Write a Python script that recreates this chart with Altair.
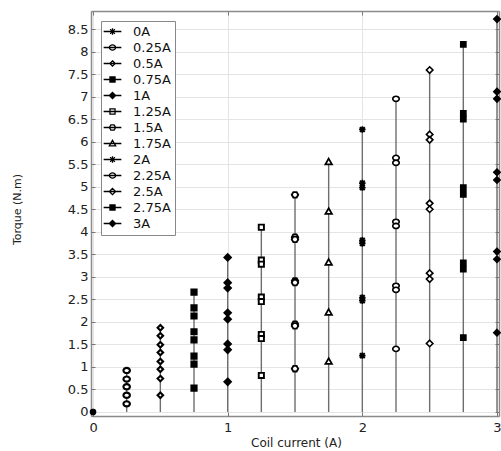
import altair as alt
import pandas as pd

# ---------------- data ----------------
series = ["0A", "0.25A", "0.5A", "0.75A", "1A", "1.25A", "1.5A",
          "1.75A", "2A", "2.25A", "2.5A", "2.75A", "3A"]
currents = [0, 0.25, 0.5, 0.75, 1, 1.25, 1.5, 1.75, 2, 2.25, 2.5, 2.75, 3]

t_0A = [0.0]
t_025A = [0.92, 0.73, 0.56, 0.37, 0.18]
t_05A = [1.87, 1.69, 1.49, 1.32, 1.12, 0.95, 0.74, 0.37]
t_075A = [2.66, 2.31, 2.13, 1.78, 1.60, 1.24, 1.06, 0.53]
t_1A = [3.43, 2.87, 2.75, 2.20, 2.06, 1.51, 1.38, 0.67]
t_125A = [4.10, 3.37, 3.28, 2.55, 2.45, 1.72, 1.63, 0.81]
t_15A = [4.82, 3.88, 3.83, 2.91, 2.87, 1.95, 1.91, 0.96]
t_175A = [5.55, 4.45, 3.32, 2.21, 1.12]
t_2A = [6.27, 5.08, 4.98, 3.81, 3.74, 2.54, 2.47, 1.25]
t_225A = [6.95, 5.64, 5.53, 4.22, 4.13, 2.80, 2.71, 1.40]
t_25A = [7.59, 6.16, 6.04, 4.63, 4.50, 3.08, 2.95, 1.52]
t_275A = [8.16, 6.63, 6.50, 4.98, 4.83, 3.31, 3.17, 1.65]
t_3A = [8.72, 7.11, 6.95, 5.32, 5.15, 3.56, 3.39, 1.76]

torques = [t_0A, t_025A, t_05A, t_075A, t_1A, t_125A, t_15A,
           t_175A, t_2A, t_225A, t_25A, t_275A, t_3A]

x_ticks = [0, 1, 2, 3]
y_ticks = [0, 0.5, 1, 1.5, 2, 2.5, 3, 3.5, 4, 4.5, 5, 5.5, 6, 6.5, 7, 7.5, 8, 8.5]

# ---------------- styles ----------------
AST = "M-1,0H1M0,-1V1M-0.75,-0.75L0.75,0.75M-0.75,0.75L0.75,-0.75"
CIRC = "M-1,0A1,0.8 0 1,0 1,0A1,0.8 0 1,0 -1,0Z"
SDIA = "M0,-0.85L0.85,0L0,0.85L-0.85,0Z"
SQR = "M-0.8,-0.8H0.8V0.8H-0.8Z"
DIA = "M0,-1L1,0L0,1L-1,0Z"
HEX = "M-1,0L-0.5,-0.85H0.5L1,0L0.5,0.85H-0.5Z"
TRI = "M0,-1L1,0.75H-1Z"

markers = [AST, CIRC, SDIA, SQR, DIA, SQR, HEX, TRI, AST, CIRC, DIA, SQR, DIA]
fills = ["black", "white", "white", "black", "black", "white", "white",
         "white", "black", "white", "white", "black", "black"]
widths = [2.2, 1.5, 1.5, 1.5, 1.5, 1.5, 1.6, 1.6, 2.2, 1.5, 1.5, 1.5, 1.5]
strokes = ["black"] * len(series)
legend_markers = ["M-2.8,0H2.8" + m for m in markers]

rows = []
for s, c, vals in zip(series, currents, torques):
    for v in vals:
        rows.append({"series": s, "current": c, "torque": v})
df = pd.DataFrame(rows)

stems = pd.DataFrame({"current": currents,
                      "top": [max(v) for v in torques],
                      "base": [0.0] * len(currents)})
stems = stems[stems["top"] > 0]

W, H = 408, 405
FONT = "DejaVu Sans"
X = alt.Scale(domain=[-0.015, 3.015], nice=False, zero=False)
Y = alt.Scale(domain=[-0.09, 8.9], nice=False, zero=False)

GRID = "#e4e4e4"
DOM = "#8a8a8a"
TICK = "#777777"

main_x = alt.Axis(values=x_ticks, grid=True, gridColor=GRID, ticks=False,
                  domainColor=DOM, domainWidth=1.5, format="~g",
                  labelFont=FONT, labelFontSize=13, labelColor="#222",
                  labelPadding=5, title="Coil current (A)", titleFont=FONT,
                  titleFontSize=12, titleFontWeight="normal", titleColor="#222",
                  titleX=W / 2 + 1, titleY=26, titleBaseline="middle",
                  titleAlign="center")
main_y = alt.Axis(values=y_ticks, grid=True, gridColor=GRID, ticks=False,
                  domainColor=DOM, domainWidth=1.5, format="~g",
                  labelFont=FONT, labelFontSize=13, labelColor="#222",
                  labelPadding=3, title="Torque (N.m)", titleFont=FONT,
                  titleFontSize=11, titleFontWeight="normal", titleColor="#222",
                  titleX=-74, titleY=198, titleBaseline="middle",
                  titleAlign="center", titleAngle=270)

in_bottom = alt.Axis(orient="top", offset=-H, values=x_ticks, labels=False,
                     title=None, grid=False, domain=False, tickSize=4,
                     tickColor=TICK)
in_left = alt.Axis(orient="right", offset=-W, values=y_ticks, labels=False,
                   title=None, grid=False, domain=False, tickSize=4,
                   tickColor=TICK)
top_frame = alt.Axis(orient="bottom", offset=-H, values=x_ticks, labels=False,
                     title=None, grid=False, domain=True, domainColor=DOM,
                     domainWidth=1.5, tickSize=4, tickColor=TICK)
right_frame = alt.Axis(orient="left", offset=-W, values=y_ticks, labels=False,
                       title=None, grid=False, domain=True, domainColor=DOM,
                       domainWidth=1.5, tickSize=4, tickColor=TICK)

stem_layer = alt.Chart(stems).mark_rule(color="#6e6e6e", strokeWidth=1.4).encode(
    x=alt.X("current:Q", scale=X, axis=main_x),
    y=alt.Y("base:Q", scale=Y, axis=main_y),
    y2="top:Q",
)

pt_layer = alt.Chart(df).mark_point(stroke="black", opacity=1, size=42).encode(
    x=alt.X("current:Q", scale=X, axis=in_bottom),
    y=alt.Y("torque:Q", scale=Y, axis=in_left),
    shape=alt.Shape("series:N", scale=alt.Scale(domain=series, range=markers),
                    legend=None),
    fill=alt.Fill("series:N", scale=alt.Scale(domain=series, range=fills),
                  legend=None),
    strokeWidth=alt.StrokeWidth("series:N",
                                scale=alt.Scale(domain=series, range=widths),
                                legend=None),
)

leg = alt.Legend(title=None, orient="none", legendX=10, legendY=10,
                 strokeColor="#888", fillColor="white", padding=4,
                 labelFont=FONT, labelFontSize=13, labelColor="#111",
                 symbolSize=40, symbolOpacity=1,
                 symbolStrokeWidth=1.3, symbolOffset=1, labelOffset=14,
                 rowPadding=2)

leg_layer = alt.Chart(df).mark_point(opacity=0, size=36).encode(
    x=alt.X("current:Q", scale=X, axis=top_frame),
    y=alt.Y("torque:Q", scale=Y, axis=right_frame),
    shape=alt.Shape("series:N",
                    scale=alt.Scale(domain=series, range=legend_markers),
                    legend=leg),
    fill=alt.Fill("series:N", scale=alt.Scale(domain=series, range=fills),
                  legend=leg),
    stroke=alt.Stroke("series:N", scale=alt.Scale(domain=series, range=strokes),
                      legend=leg),
)

chart = alt.layer(stem_layer, pt_layer, leg_layer).resolve_axis(
    x="independent", y="independent"
).resolve_scale(
    shape="independent", fill="independent", stroke="independent",
    strokeWidth="independent"
).properties(
    width=W, height=H,
    autosize=alt.AutoSizeParams(type="none"),
    padding={"left": 91, "top": 11, "right": 2, "bottom": 35},
).configure_view(stroke=None).configure(background="white")

chart.save("out.html", embed_options={"renderer": "svg", "actions": False})
